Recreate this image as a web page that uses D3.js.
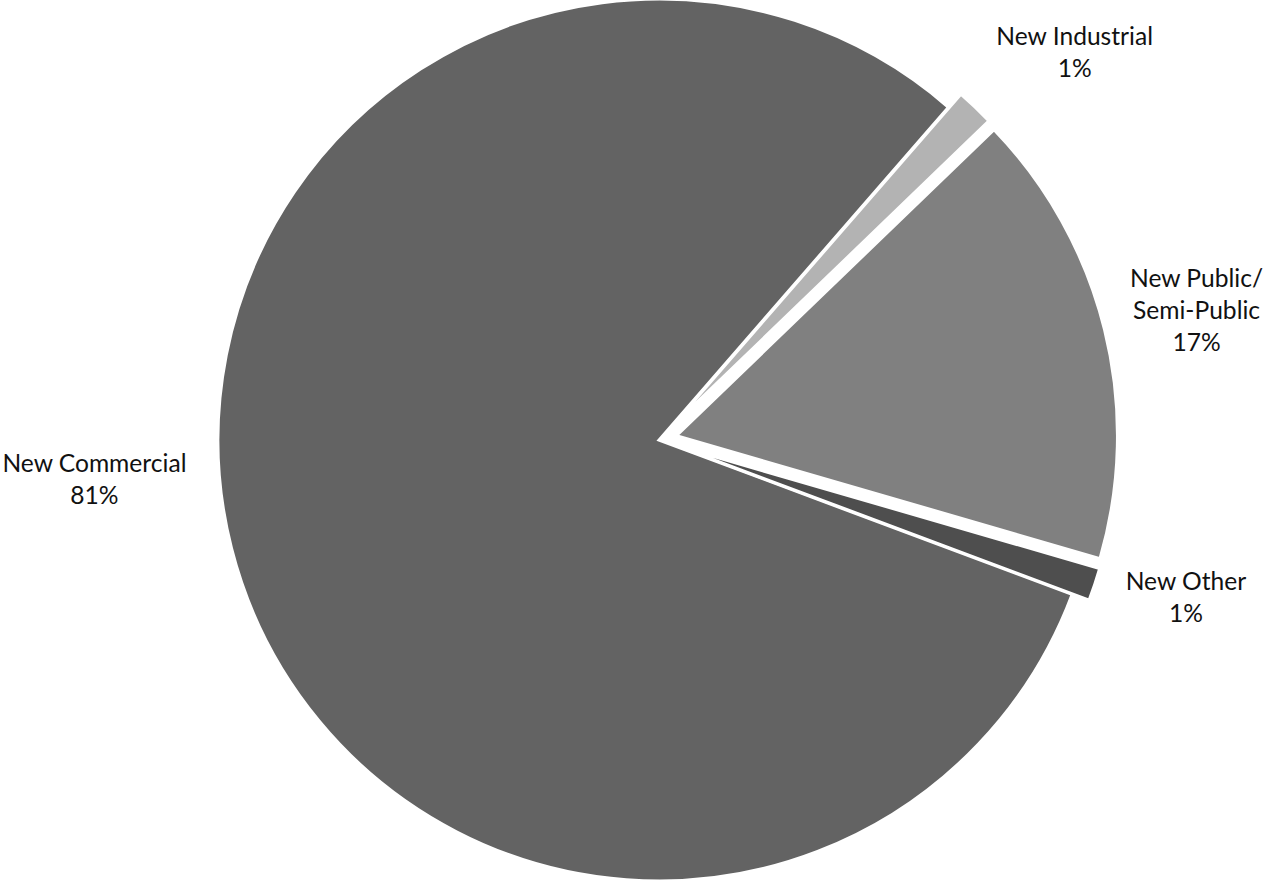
<!DOCTYPE html>
<html>
<head>
<meta charset="utf-8">
<script src="https://cdn.jsdelivr.net/npm/d3@7"></script>
<style>
  html, body { margin: 0; padding: 0; background: #ffffff; }
  svg { display: block; }
  .slice-label { font-family: Lato, "Open Sans", sans-serif; font-size: 24.6px; fill: #111111; }
</style>
</head>
<body>
<svg id="chart" width="1268" height="882"></svg>
<script>
// Share of new non-residential development by land use (percent)
const categories = ["New Commercial", "New Industrial", "New Public/Semi-Public", "New Other"];
const shares = [80.7, 1.4, 16.7, 1.2];
// Label lines as printed beside each slice (percent line is added from the value)
const labelLines = [["New Commercial"], ["New Industrial"], ["New Public/", "Semi-Public"], ["New Other"]];

const width = 1268, height = 882;
const cx = 659, cy = 440, radius = 441;
const firstSliceAngle = 110.5;            // degrees clockwise from 12 o'clock
const explodeDistance = 18;
const explodedSlices = new Set(["New Industrial", "New Public/Semi-Public", "New Other"]);
const fills = {
  "New Commercial": "#636363",
  "New Industrial": "#b3b3b3",
  "New Public/Semi-Public": "#808080",
  "New Other": "#4e4e4e"
};
// Label placement: radius from the pie centre and angular nudge (degrees)
const labelRadius = 558;
const labelNudge = {
  "New Commercial": { da: 10.2, dr: 8 },
  "New Industrial": { da: 3.5, dr: 10 },
  "New Public/Semi-Public": { da: 0.3, dr: -5 },
  "New Other": { da: -1.7, dr: -8 }
};
const lineHeight = 32;

const data = categories.map((c, i) => ({ category: c, value: shares[i], lines: labelLines[i] }));

const toRad = d3.scaleLinear().domain([0, 360]).range([0, 2 * Math.PI]);
const start = toRad(firstSliceAngle);

const pie = d3.pie()
  .sort(null)
  .value(d => d.value)
  .startAngle(start)
  .endAngle(start + 2 * Math.PI);

const arcs = pie(data);

const arc = d3.arc().innerRadius(0).outerRadius(radius);

const svg = d3.select("#chart");
const g = svg.append("g").attr("transform", `translate(${cx},${cy})`);

function midAngle(d) { return (d.startAngle + d.endAngle) / 2; }

g.selectAll("path.slice")
  .data(arcs)
  .join("path")
  .attr("class", "slice")
  .attr("d", arc)
  .attr("fill", d => fills[d.data.category])
  .attr("stroke", "#ffffff")
  .attr("stroke-width", 3)
  .attr("stroke-linejoin", "miter")
  .attr("transform", d => {
    if (!explodedSlices.has(d.data.category)) return null;
    const a = midAngle(d);
    return `translate(${explodeDistance * Math.sin(a)},${-explodeDistance * Math.cos(a)})`;
  });

const total = d3.sum(shares);
const pct = v => `${Math.round(v / total * 100)}%`;

g.selectAll("text.slice-label")
  .data(arcs)
  .join("text")
  .attr("class", "slice-label")
  .attr("text-anchor", "middle")
  .each(function (d) {
    const nudge = labelNudge[d.data.category];
    const a = midAngle(d) + toRad(nudge.da);
    const r = labelRadius + nudge.dr;
    const lx = r * Math.sin(a);
    const ly = -r * Math.cos(a);
    const lines = d.data.lines.concat([pct(d.data.value)]);
    const firstBaseline = ly - (lines.length - 1) * lineHeight / 2 + 8.5;
    const t = d3.select(this);
    lines.forEach((line, i) => {
      t.append("tspan")
        .attr("x", lx)
        .attr("y", firstBaseline + i * lineHeight)
        .text(line);
    });
  });
</script>
</body>
</html>
